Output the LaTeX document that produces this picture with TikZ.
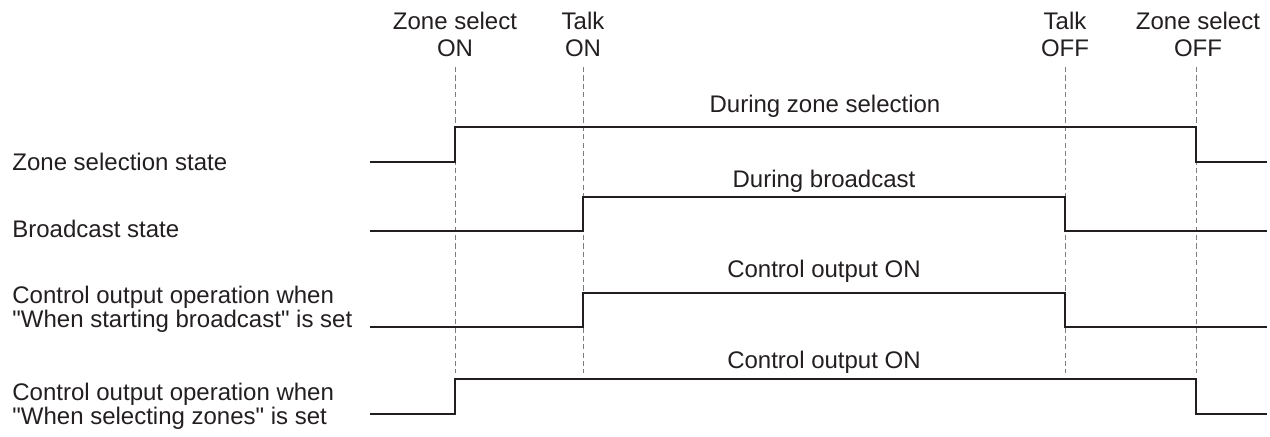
\documentclass[tikz,border=0pt]{standalone}
\usepackage{fontspec}
\setmainfont{Liberation Sans}[Ligatures=TeXOff]
\usetikzlibrary{positioning,calc}
\definecolor{guideGray}{RGB}{125,125,125}
\definecolor{sigBlack}{RGB}{35,31,32}
\tikzset{
  event/.style={align=center, anchor=base, inner sep=0pt, text=sigBlack, font=\fontsize{12}{13.4}\selectfont},
  rowlabel/.style={align=left, anchor=base west, inner sep=0pt, text=sigBlack, font=\fontsize{12}{11.6}\selectfont},
  phase/.style={anchor=base, inner sep=0pt, text=sigBlack, font=\fontsize{12}{14}\selectfont},
  guide/.style={draw=guideGray, line width=0.5pt, dash pattern=on 2.6pt off 1.6pt},
  signal/.style={draw=sigBlack, line width=1.4pt, line join=miter}
}
\begin{document}
\begin{tikzpicture}[x=0.5pt,y=-0.5pt]
  \useasboundingbox (0,0) rectangle (1270,436);
  \coordinate (zsOn) at (455,67);
  \coordinate (tkOn) at (583,67);
  \coordinate (tkOff) at (1065,67);
  \coordinate (zsOff) at (1196,67);

  \node[event] (zsOnLbl) at (455,56) {Zone select\\ON};
  \node[event] (tkOnLbl) at (583,56) {Talk\\ON};
  \node[event] (tkOffLbl) at (1065,56) {Talk\\OFF};
  \node[event] (zsOffLbl) at (1198,56) {Zone select\\OFF};

  \foreach \t in {zsOn,tkOn,tkOff,zsOff}
    \draw[guide] (\t) -- ++(0,306);

  \node[rowlabel] (zsState) at (12,170) {Zone selection state};
  \node[rowlabel] (bcState) at (12,237) {Broadcast state};
  \node[rowlabel] (ctlBc) at (12,327) {Control output operation when\\"When starting broadcast" is set};
  \node[rowlabel] (ctlZs) at (12,424) {Control output operation when\\"When selecting zones" is set};

  \node[phase] (zsPhase) at (825,112) {During zone selection};
  \node[phase] (bcPhase) at (824,187) {During broadcast};
  \node[phase] (ctlBcPhase) at (824,277) {Control output ON};
  \node[phase] (ctlZsPhase) at (824,368) {Control output ON};

  \draw[signal] (370,162) -- (zsOn |- 0,162) -- (zsOn |- 0,127) -- (zsOff |- 0,127) -- (zsOff |- 0,162) -- (1267,162);
  \draw[signal] (370,231) -- (tkOn |- 0,231) -- (tkOn |- 0,197) -- (tkOff |- 0,197) -- (tkOff |- 0,231) -- (1267,231);
  \draw[signal] (370,327) -- (tkOn |- 0,327) -- (tkOn |- 0,293) -- (tkOff |- 0,293) -- (tkOff |- 0,327) -- (1267,327);
  \draw[signal] (370,414) -- (zsOn |- 0,414) -- (zsOn |- 0,379) -- (zsOff |- 0,379) -- (zsOff |- 0,414) -- (1267,414);
\end{tikzpicture}
\end{document}
